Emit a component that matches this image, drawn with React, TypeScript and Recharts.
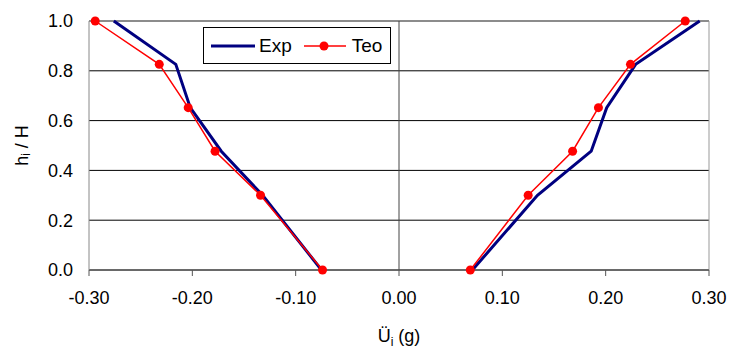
import React from 'react';
import {
  LineChart,
  Line,
  XAxis,
  YAxis,
  CartesianGrid,
  ReferenceLine,
  Label,
} from 'recharts';

// heights h_i / H, listed top-down
const heights = [1.0, 0.826, 0.652, 0.477, 0.3, 0.0];

// experimental / theoretical accelerations (g), negative and positive branches
const expNeg = [-0.276, -0.216, -0.202, -0.172, -0.132, -0.075];
const expPos = [0.291, 0.229, 0.201, 0.186, 0.134, 0.071];
const teoNeg = [-0.294, -0.232, -0.204, -0.178, -0.134, -0.074];
const teoPos = [0.277, 0.224, 0.193, 0.168, 0.125, 0.069];

const xTicks = [-0.3, -0.2, -0.1, 0, 0.1, 0.2, 0.3];
const yTicks = [0, 0.2, 0.4, 0.6, 0.8, 1.0];
const seriesNames = ['Exp', 'Teo'];

const FONT = '"Liberation Sans", Arial, sans-serif';
const EXP_COLOR = '#000080';
const TEO_COLOR = '#ff0000';

const toPoints = (xs: number[]) => xs.map((x, i) => ({x, y: heights[i]}));

// legend box drawn on top of the plot, like the excel one
const LegendBox = () => (
  <div
    style={{
      position: 'absolute',
      left: 203,
      top: 27,
      width: 188,
      height: 37,
      border: '1px solid #000',
      background: '#fff',
      boxSizing: 'border-box',
      display: 'flex',
      alignItems: 'center',
      fontFamily: FONT,
      fontSize: 19,
      color: '#000',
    }}>
    <svg width={52} height={20}>
      <line x1={7} y1={10} x2={51} y2={10} stroke={EXP_COLOR} strokeWidth={3} />
    </svg>
    <span style={{marginLeft: 3}}>{seriesNames[0]}</span>
    <svg width={50} height={20} style={{marginLeft: 8}}>
      <line x1={4} y1={10} x2={46} y2={10} stroke={TEO_COLOR} strokeWidth={1.5} />
      <circle cx={24} cy={10} r={4.5} fill={TEO_COLOR} />
    </svg>
    <span style={{marginLeft: 2}}>{seriesNames[1]}</span>
  </div>
);

const YTitle = (props: any) => {
  const {viewBox} = props;
  const cx = 22;
  const cy = viewBox.y + viewBox.height / 2;
  return (
    <text
      x={cx}
      y={cy}
      transform={`rotate(-90 ${cx} ${cy})`}
      textAnchor='middle'
      dominantBaseline='central'
      fontFamily={FONT}
      fontSize={18}
      fill='#000'>
      h<tspan fontSize={12} dy={4}>i</tspan>
      <tspan dy={-4}> / H</tspan>
    </text>
  );
};

const XTitle = (props: any) => {
  const {viewBox} = props;
  const cx = viewBox.x + viewBox.width / 2;
  return (
    <text
      x={cx}
      y={342}
      textAnchor='middle'
      fontFamily={FONT}
      fontSize={18}
      fill='#000'>
      Ü<tspan fontSize={12} dy={4}>i</tspan>
      <tspan dy={-4}> (g)</tspan>
    </text>
  );
};

export default function App() {
  return (
    <div style={{position: 'absolute', left: 0, top: 0, background: '#fff'}}>
      <LineChart
        width={733}
        height={353}
        margin={{top: 21, right: 24, bottom: 53, left: 9}}>
        <CartesianGrid vertical={false} stroke='#000' strokeWidth={1} />
        <XAxis
          type='number'
          dataKey='x'
          domain={[-0.3, 0.3]}
          ticks={xTicks}
          tickFormatter={(v: number) => v.toFixed(2)}
          allowDataOverflow
          height={30}
          stroke='#555'
          tickSize={6}
          tickMargin={15}
          tick={{fill: '#000', fontSize: 18, fontFamily: FONT}}>
          <Label content={<XTitle />} />
        </XAxis>
        <YAxis
          type='number'
          dataKey='y'
          domain={[0, 1]}
          ticks={yTicks}
          tickFormatter={(v: number) => v.toFixed(1)}
          width={80}
          stroke='#888'
          tickLine={false}
          tickSize={0}
          tickMargin={16}
          tick={{fill: '#000', fontSize: 18, fontFamily: FONT}}>
          <Label content={<YTitle />} />
        </YAxis>
        <ReferenceLine y={1} stroke='#999' />
        <ReferenceLine x={0.3} stroke='#999' />
        <ReferenceLine x={0} stroke='#444' />
        <Line
          data={toPoints(expNeg)}
          dataKey='y'
          name='Exp'
          stroke={EXP_COLOR}
          strokeWidth={3}
          dot={false}
          isAnimationActive={false}
        />
        <Line
          data={toPoints(expPos)}
          dataKey='y'
          name='Exp'
          stroke={EXP_COLOR}
          strokeWidth={3}
          dot={false}
          isAnimationActive={false}
        />
        <Line
          data={toPoints(teoNeg)}
          dataKey='y'
          name='Teo'
          stroke={TEO_COLOR}
          strokeWidth={1.5}
          dot={{r: 4.5, fill: TEO_COLOR, stroke: 'none'}}
          isAnimationActive={false}
        />
        <Line
          data={toPoints(teoPos)}
          dataKey='y'
          name='Teo'
          stroke={TEO_COLOR}
          strokeWidth={1.5}
          dot={{r: 4.5, fill: TEO_COLOR, stroke: 'none'}}
          isAnimationActive={false}
        />
      </LineChart>
      <LegendBox />
    </div>
  );
}
